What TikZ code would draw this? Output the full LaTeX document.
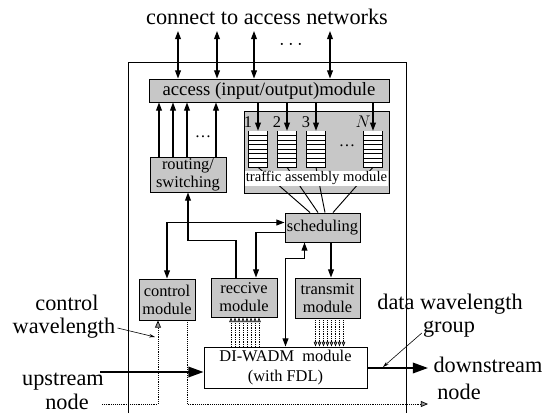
\documentclass[tikz,border=0pt]{standalone}
\usepackage{fontspec}
\setmainfont{Liberation Serif}
\usetikzlibrary{arrows.meta,calc}
\newcommand{\pxs}[0]{0.03cm}
\newcommand{\bigfont}[0]{\fontsize{19}{20}\selectfont}
\newcommand{\boxfont}[0]{\fontsize{14}{15.5}\selectfont}

\tikzset{
  module/.style={draw=black, line width=0.8pt, fill=black!22, inner sep=0pt, align=center, font=\boxfont},
  plainbox/.style={module, fill=white},
  arr/.style={line width=1pt, -{Triangle[length=7pt,width=5pt]}},
  dblarr/.style={line width=1pt, {Triangle[length=7pt,width=5pt]}-{Triangle[length=7pt,width=5pt]}},
  bigarr/.style={line width=1.6pt, -{Triangle[length=13pt,width=9pt]}},
  dotarr/.style={densely dotted, line width=0.6pt, -{Triangle[length=6pt,width=5pt,fill=black!40]}},
  smalldot/.style={densely dotted, line width=0.5pt, -{Triangle[length=4pt,width=3pt,fill=black!40]}},
  ptr/.style={line width=0.5pt, -{Stealth[length=5pt,width=3pt]}},
  lbl/.style={font=\bigfont, inner sep=0pt},
  queue/.style={minimum width=18*\pxs, minimum height=36*\pxs, inner sep=0pt, fill=white},
}

\begin{document}
\begin{tikzpicture}[x=\pxs, y=-\pxs]
        \useasboundingbox (0,0) rectangle (553,413);
        %outer frame
        \draw[line width=0.6pt] (128,413) -- (128,62) -- (406,62) -- (406,413);
        %modules
        \node[module, minimum width=240*\pxs, minimum height=23*\pxs, font=\fontsize{16}{17}\selectfont] (access) at (269,90.5) {access (input/output)module};
        \node[module, minimum width=76*\pxs, minimum height=35*\pxs] (routing) at (188,174.5) {routing/\\switching};
        \node[module, minimum width=145*\pxs, minimum height=82*\pxs] (traffic) at (316.5,152) {};
        \node[module, minimum width=75*\pxs, minimum height=29*\pxs] (sched) at (322.5,227.5) {scheduling};
        \node[module, minimum width=56*\pxs, minimum height=41*\pxs] (control) at (167,299.5) {control\\module};
        \node[module, minimum width=66*\pxs, minimum height=39*\pxs] (receive) at (244,297.5) {reccive\\module};
        \node[module, minimum width=65*\pxs, minimum height=40*\pxs] (transmit) at (327.5,298) {transmit\\module};
        \node[plainbox, minimum width=163*\pxs, minimum height=41*\pxs, font=\fontsize{14}{17}\selectfont] (wadm) at (285.5,367.5) {DI-WADM\ \ module\\(with FDL)};
        %queues of the traffic assembly module
        \foreach \n/\x/\t/\dx in {1/258/1/-12.5, 2/287/2/-4.5, 3/316/3/2.5, N/373/$N$/10.5} {
            \node[queue] (q\n) at (\x,149) {};
            \draw[line width=0.6pt] (q\n.north west) -- (q\n.south west) -- (q\n.south east) -- (q\n.north east);
            \foreach \k in {1,...,7}
                \draw[line width=0.5pt] ($(q\n.north west)!\k/8!(q\n.south west)$) -- ($(q\n.north east)!\k/8!(q\n.south east)$);
            \node[font=\boxfont, inner sep=0pt] (lq\n) at ($(q\n.north)+(-10,-9)$) {\t};
            \path[arr] (q\n.north |- access.south) edge (q\n.north);
            \path[line width=0.8pt] (q\n.south) edge ($(sched.north)+(\dx,0)$);
        }
        \node[fill=white, inner sep=0pt, minimum width=143*\pxs, minimum height=15*\pxs, font=\fontsize{12.5}{13}\selectfont] (tlabel) at (316.5,178) {traffic assembly module};
        \node[font=\boxfont, inner sep=0pt] (tdots) at (347,146) {\dots};
        \node[font=\boxfont, inner sep=0pt] (rdots) at (203,137) {\dots};
        \node[lbl] (topdots) at (291,45) {$\cdots$};
        %access networks
        \foreach \x [count=\i] in {178,217,254,330} {
            \coordinate (net\i) at (\x,31);
            \path[dblarr] (net\i) edge (net\i |- access.north);
        }
        %routing to access
        \foreach \dx [count=\i] in {-29,-15,-1,28} {
            \coordinate (ro\i) at ($(routing.north)+(\dx,0)$);
            \path[arr] (ro\i) edge (ro\i |- access.south);
        }
        %connections around scheduling
        \draw[dblarr] (control.north) |- ($(sched.west)+(0,-5)$);
        \draw[arr] ($(sched.west)+(0,5)$) -| ($(receive.north)+(12,0)$);
        \draw[arr] ($(receive.north)+(-8,0)$) -- ++(0,-37) -| (routing.south);
        \draw[dblarr] (wadm.north) -- ++(0,-88) -| ($(sched.south)+(-18,0)$);
        \coordinate (st) at ($(sched.south)+(8.5,0)$);
        \draw[arr] (st) -- (st |- transmit.north);
        %data wavelengths to receive and from transmit
        \foreach \dx in {-13,-9,...,15} {
            \coordinate (rc) at ($(receive.south)+(\dx,0)$);
            \draw[smalldot] (rc |- wadm.north) -- (rc);
        }
        \foreach \dx in {-12,-8,...,16} {
            \coordinate (tc) at ($(transmit.south)+(\dx,0)$);
            \draw[smalldot] (tc) -- (tc |- wadm.north);
        }
        %outside labels
        \node[lbl] (nettxt) at (267,17) {connect to access networks};
        \node[lbl] (ctltxt) at (67,303) {control};
        \node[lbl] (wavtxt) at (64,328) {wavelength};
        \node[lbl] (uptxt) at (63,382) {upstream};
        \node[lbl] (upnode) at (67,402) {node};
        \node[lbl] (datatxt) at (450,304) {data wavelength};
        \node[lbl] (grptxt) at (449,329) {group};
        \node[lbl] (dntxt) at (488,365) {downstream};
        \node[lbl] (dnnode) at (459,392) {node};
        %upstream and downstream
        \coordinate (upin) at (100,372);
        \draw[bigarr] (upin) -- (upin -| wadm.west);
        \coordinate (dnout) at (428,368);
        \draw[bigarr] (wadm.east |- dnout) -- (dnout);
        \coordinate (cwin) at (102,404);
        \draw[dotarr] (cwin) -| ($(control.south)+(-9,0)$);
        \coordinate (cwout) at (428,404);
        \draw[dotarr] ($(control.south)+(20,0)$) |- (cwout);
        %pointers
        \coordinate (ctlpt) at (155,337);
        \draw[ptr] ($(wavtxt.east)+(2,0)$) -- (ctlpt);
        \coordinate (grppt) at (383,367);
        \draw[ptr] ($(grptxt.west)+(-1,4)$) -- (grppt);
\end{tikzpicture}
\end{document}
